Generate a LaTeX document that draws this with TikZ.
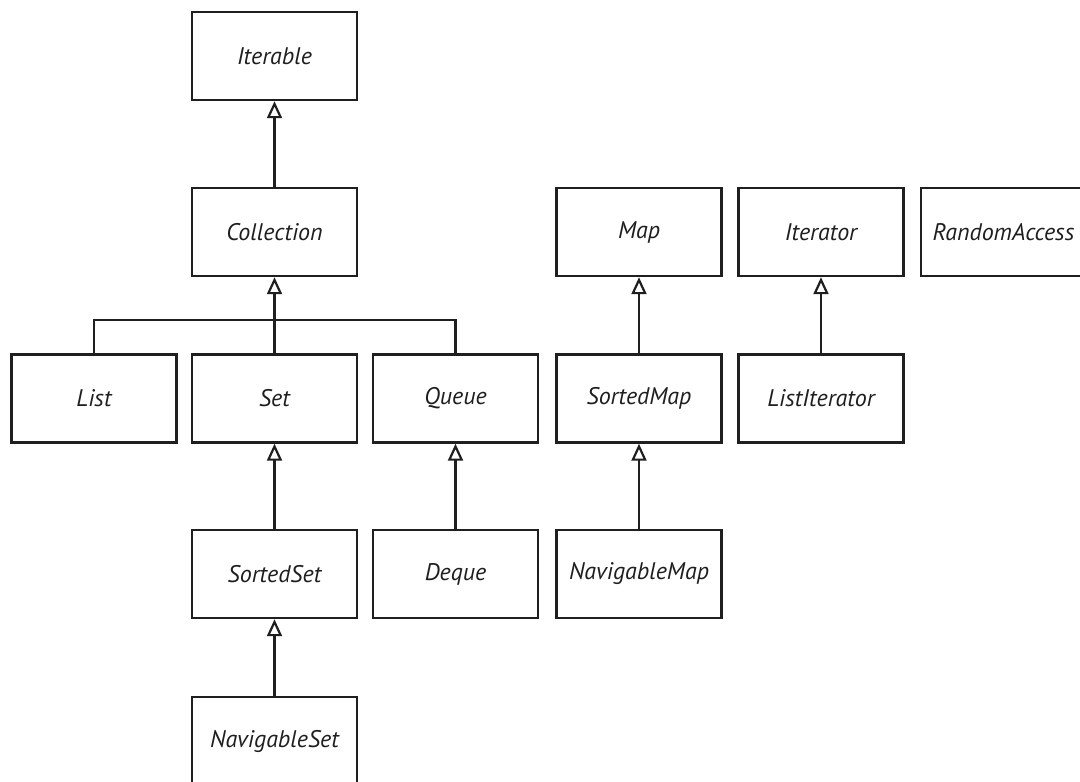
\documentclass[tikz,border=0pt]{standalone}
\usepackage{fontspec}
\setmainfont{PT Sans}
\usetikzlibrary{arrows.meta}
\begin{document}
\begin{tikzpicture}[x=1pt,y=-1pt,
 cls/.style={draw=black!88, line width=2.4pt, minimum width=165pt, minimum height=88pt, inner sep=0pt,
   font=\itshape\fontsize{24}{28}\selectfont, text=black!88},
 conn/.style={draw=black!88, line width=2.4pt},
 inh/.style={conn, -{Triangle[open, width=15pt, length=17pt, line width=2.2pt]}}]
\useasboundingbox (0,0) rectangle (1080,782);
\node[cls] (iterable) at (274.5,56) {Iterable};
\node[cls] (collection) at (274.5,232) {Collection};
\node[cls] (map) at (639,232) {Map};
\node[cls] (iterator) at (821,232) {Iterator};
\node[cls] (random) at (1003.5,232) {RandomAccess};
\node[cls] (list) at (94,398.5) {List};
\node[cls] (set) at (274.5,398.5) {Set};
\node[cls] (queue) at (455.5,398.5) {Queue};
\node[cls] (sortedmap) at (639,398.5) {SortedMap};
\node[cls] (listiterator) at (821,398.5) {ListIterator};
\node[cls] (sortedset) at (274.5,574) {SortedSet};
\node[cls] (deque) at (455.5,574) {Deque};
\node[cls] (navmap) at (639,574) {NavigableMap};
\node[cls] (navset) at (274.5,741) {NavigableSet};
\coordinate (busL) at (list.north |- 0,320);
\coordinate (busR) at (queue.north |- 0,320);
\draw[inh] (collection.north) -- (iterable.south);
\draw[conn] (list.north) -- (busL) -- (busR) -- (queue.north);
\draw[inh] (set.north) -- (collection.south);
\draw[inh] (sortedset.north) -- (set.south);
\draw[inh] (navset.north) -- (sortedset.south);
\draw[inh] (deque.north) -- (queue.south);
\draw[inh] (sortedmap.north) -- (map.south);
\draw[inh] (navmap.north) -- (sortedmap.south);
\draw[inh] (listiterator.north) -- (iterator.south);
\end{tikzpicture}
\end{document}
